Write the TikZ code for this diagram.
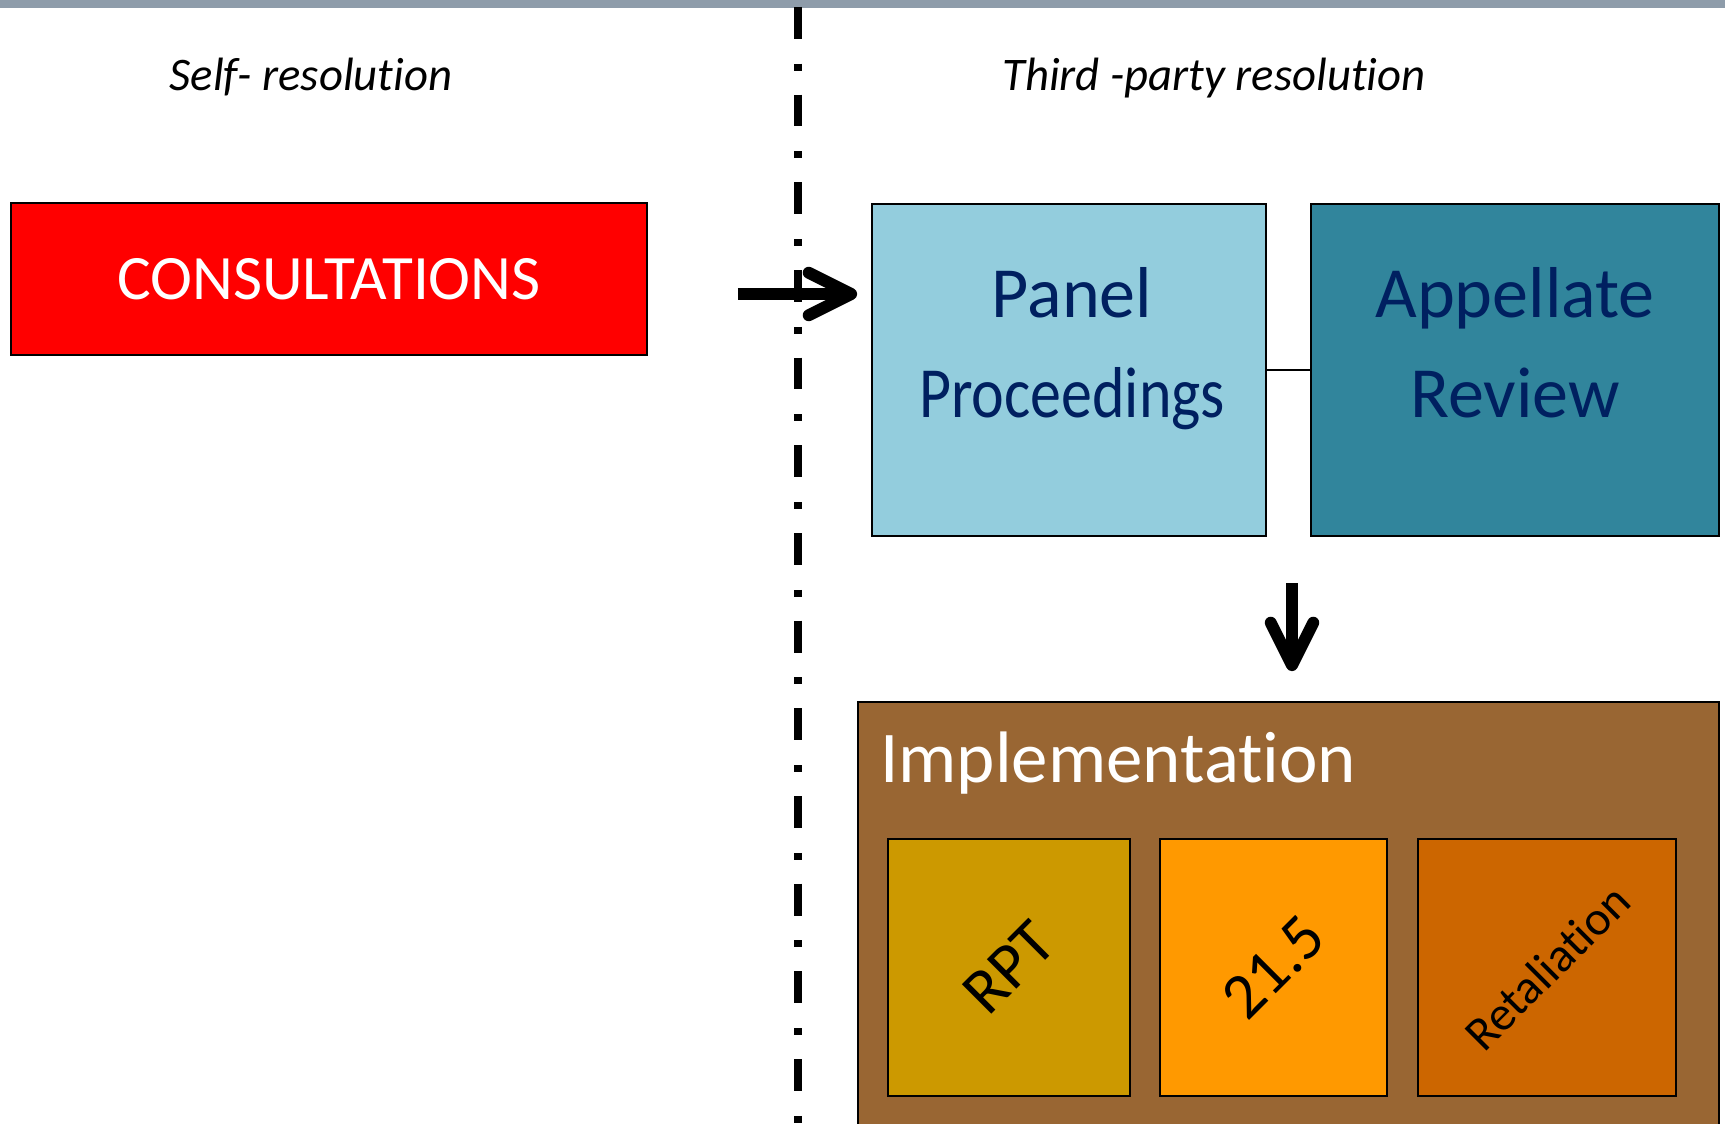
\documentclass[tikz,border=0pt]{standalone}
\usepackage{fontspec}
\usepackage{graphicx}
\setmainfont[Ligatures={NoCommon,NoRare,NoContextual},RawFeature={-liga;-clig;-calt;-dlig;-rlig;-ccmp}]{Carlito}
\usetikzlibrary{arrows.meta,calc}
\definecolor{topbar}{HTML}{8E9CAA}
\definecolor{consred}{HTML}{FF0000}
\definecolor{panelblue}{HTML}{93CDDD}
\definecolor{appteal}{HTML}{31859C}
\definecolor{navy}{HTML}{002060}
\definecolor{implbrown}{HTML}{996633}
\definecolor{rptgold}{HTML}{CC9900}
\definecolor{artorange}{HTML}{FF9900}
\definecolor{retrust}{HTML}{CC6600}

\begin{document}
\begin{tikzpicture}[x=0.02cm,y=-0.02cm]
\tikzstyle{box}=[rectangle,draw=black,line width=1pt,inner sep=0pt]
\tikzstyle{big}=[-{Straight Barb[length=0.85cm,width=0.85cm,round]},line width=6.8pt]
\tikzstyle{lbl}=[font=\fontsize{41}{57}\selectfont,text=navy,align=center]
\tikzstyle{head}=[anchor=base,font=\fontsize{26.6}{32}\selectfont\itshape]
\useasboundingbox (0,0) rectangle (1725,1124);
\fill[topbar] (0,0) rectangle (1725,8);
\draw[line width=4.5pt,dash pattern=on 18.1pt off 14.2pt on 4pt off 13.6pt] (798,7) -- (798,1124);

\node[head] (S) at (311,91) {Self- resolution};
\node[head] (H) at (1214,91) {Third -party resolution};

\node[box,fill=consred,minimum width=12.72cm,minimum height=3.03cm,text=white,font=\fontsize{36}{40}\selectfont] (C) at (329,279) {CONSULTATIONS};
\node[box,fill=panelblue,minimum width=7.88cm,minimum height=6.65cm] (P) at (1069,370) {};
\node[box,fill=appteal,minimum width=8.16cm,minimum height=6.65cm] (A) at (1515,370) {};
\node[lbl,yshift=0.456cm,xshift=0.06cm] (PL) at (P) {\strut Panel\\\strut\scalebox{0.86}[1]{Proceedings}};
\node[lbl,yshift=0.456cm] (AL) at (A) {\strut Appellate\\\strut Review};
\draw[line width=1pt] (P) -- (A);

\node[box,fill=implbrown,minimum width=17.22cm,minimum height=8.56cm] (I) at (1288.5,916) {};
\node[anchor=base west,inner sep=0pt,text=white,font=\fontsize{41.5}{50}\selectfont] (IL) at (880,783) {Implementation};
\node[box,fill=rptgold,minimum width=4.84cm,minimum height=5.14cm,font=\fontsize{37}{40}\selectfont] (R) at (1009,967.5) {\rotatebox{45}{RPT}};
\node[box,fill=artorange,minimum width=4.54cm,minimum height=5.14cm,font=\fontsize{37}{40}\selectfont] (T) at (1273.5,967.5) {\rotatebox{45}{21.5}};
\node[box,fill=retrust,minimum width=5.16cm,minimum height=5.14cm,font=\fontsize{27.5}{30}\selectfont] (L) at (1547,967.5) {\rotatebox{45}{Retaliation}};

\coordinate (G) at ($(P.south east)!0.5!(A.south west)+(3.5,0)$);
\draw[big,shorten <=1.8cm,shorten >=0.28cm] ([yshift=-0.3cm]C.east) -- ([yshift=-0.3cm]C.east -| P.west);
\draw[big,shorten <=0.92cm,shorten >=0.6cm] (G) -- (G |- I.north);
\end{tikzpicture}
\end{document}
